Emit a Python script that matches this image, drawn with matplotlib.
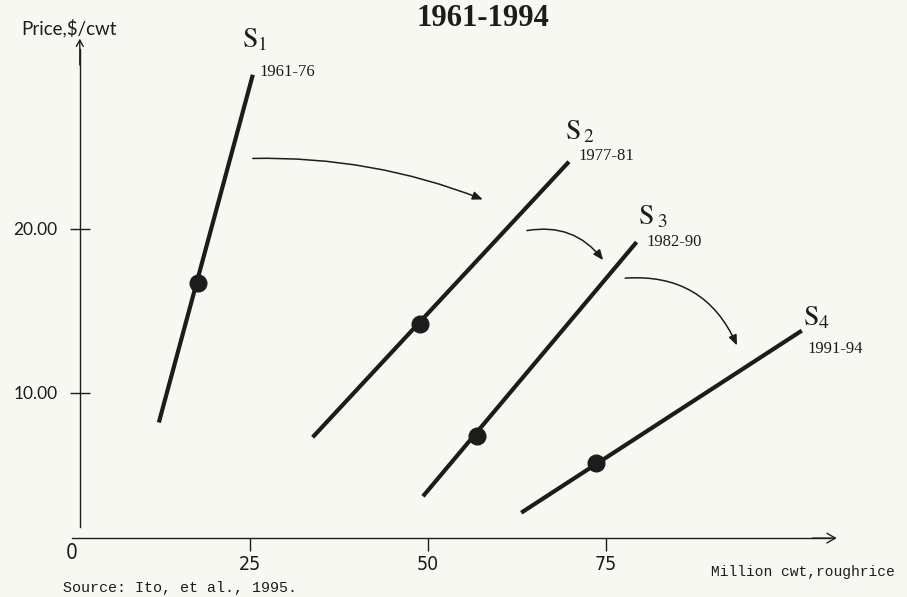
import matplotlib
matplotlib.use('Agg')
from matplotlib import pyplot as plt

# supply curves for rough rice
periods = ['1961-76', '1977-81', '1982-90', '1991-94']
curve_names = [r'$\mathrm{S}_1$', r'$\mathrm{S}_{\,2}$', r'$\mathrm{S}_{\;3}$', r'$\mathrm{S}_4$']
qty_start = [12.2, 33.8, 49.3, 63.1]
qty_end = [25.4, 69.8, 79.3, 102.5]
price_start = [8.2, 7.3, 3.7, 2.7]
price_end = [29.4, 24.1, 19.2, 13.8]
eq_qty = [17.7, 48.9, 56.9, 73.6]
eq_price = [16.7, 14.2, 7.4, 5.7]

# arrows showing the shift between periods
shift_from = [(25.4, 24.3), (63.9, 19.9), (77.7, 17.0)]
shift_to = [(57.7, 21.8), (74.6, 18.1), (93.4, 12.9)]

x_ticks = [25, 50, 75]
y_ticks = [10, 20]
y_tick_labels = ['10.00', '20.00']

bg = '#f8f8f3'
ink = '#1c1c1c'

plt.rcParams['mathtext.fontset'] = 'stix'

fig = plt.figure(figsize=(9.07, 5.97), dpi=100, facecolor=bg)
ax = fig.add_axes([0, 0, 1, 1])
ax.set_facecolor(bg)
ax.set_xlim(-10.11, 117.28)
ax.set_ylim(-2.44, 33.96)

# axes drawn as spines through the origin area
ax.spines['top'].set_visible(False)
ax.spines['right'].set_visible(False)
ax.spines['left'].set_position(('data', 1.1))
ax.spines['bottom'].set_position(('data', 1.15))
ax.spines['left'].set_bounds(1.8, 31.0)
ax.spines['bottom'].set_bounds(0, 106.5)
for s in ['left', 'bottom']:
    ax.spines[s].set_linewidth(1.0)
    ax.spines[s].set_color(ink)

ax.annotate('', xy=(1.1, 31.6), xytext=(1.1, 30.0),
            arrowprops=dict(arrowstyle='->,head_length=0.45,head_width=0.25',
                            lw=1.0, color=ink, shrinkA=0, shrinkB=0))
ax.annotate('', xy=(107.4, 1.15), xytext=(104, 1.15),
            arrowprops=dict(arrowstyle='->,head_length=0.6,head_width=0.35',
                            lw=1.0, color=ink, shrinkA=0, shrinkB=0))

narrow = dict(family=['DejaVu Sans'], stretch='condensed')
ax.set_xticks(x_ticks)
ax.set_xticklabels([str(t) for t in x_ticks], fontsize=14, **narrow)
ax.tick_params(axis='x', direction='out', length=9.5, width=1.0, pad=3, colors=ink)
ax.set_yticks(y_ticks)
ax.set_yticklabels(y_tick_labels, family=['Lato', 'DejaVu Sans'], fontsize=12.5)
ax.tick_params(axis='y', direction='inout', length=14, width=1.0, pad=9, colors=ink)

ax.text(0, 0.25, '0', fontsize=15, ha='center', va='center', color=ink, **narrow)

ax.set_ylabel('Price,$/cwt', rotation=0, family=['Lato', 'DejaVu Sans'],
              fontsize=13.5, ha='center', va='center', color=ink)
ax.yaxis.set_label_coords(69 / 907, 1 - 28 / 597)
ax.set_xlabel('Million cwt,roughrice', family=['Liberation Mono', 'DejaVu Sans Mono'],
              fontsize=10.5, ha='center', va='center', color=ink)
ax.xaxis.set_label_coords(803 / 907, 1 - 572 / 597)

# supply lines and the observed points
name_off = [(-8, 20), (-3, 16), (1, 13), (1, 4)]
year_off = [(5, 2), (7, 4), (7, 0), (4, -13)]
for i in range(len(periods)):
    ax.plot([qty_start[i], qty_end[i]], [price_start[i], price_end[i]],
            color=ink, lw=3, solid_capstyle='butt')
    ax.plot(eq_qty[i], eq_price[i], 'o', color=ink, ms=12)
    ax.annotate(curve_names[i], xy=(qty_end[i], price_end[i]), xytext=name_off[i],
                textcoords='offset points', fontsize=20, ha='left', va='baseline',
                color=ink)
    ax.annotate(periods[i], xy=(qty_end[i], price_end[i]), xytext=year_off[i],
                textcoords='offset points', family='Liberation Serif', fontsize=12,
                ha='left', va='center', color=ink)

rads = [-0.1, -0.3, -0.35]
for i in range(len(shift_from)):
    ax.annotate('', xy=shift_to[i], xytext=shift_from[i],
                arrowprops=dict(arrowstyle='-|>,head_length=0.6,head_width=0.25',
                                connectionstyle='arc3,rad=%s' % rads[i],
                                lw=1.1, color=ink, shrinkA=0, shrinkB=0))

fig.text(483 / 907, 1 - 19 / 597, '1961-1994', family='Liberation Serif',
         fontweight='bold', fontsize=22, ha='center', va='center', color=ink)
fig.text(63 / 907, 1 - 588 / 597, 'Source: Ito, et al., 1995.',
         family=['Liberation Mono', 'DejaVu Sans Mono'], fontsize=10.8,
         ha='left', va='center', color=ink)

plt.savefig('out.png', dpi=100, facecolor=bg)
